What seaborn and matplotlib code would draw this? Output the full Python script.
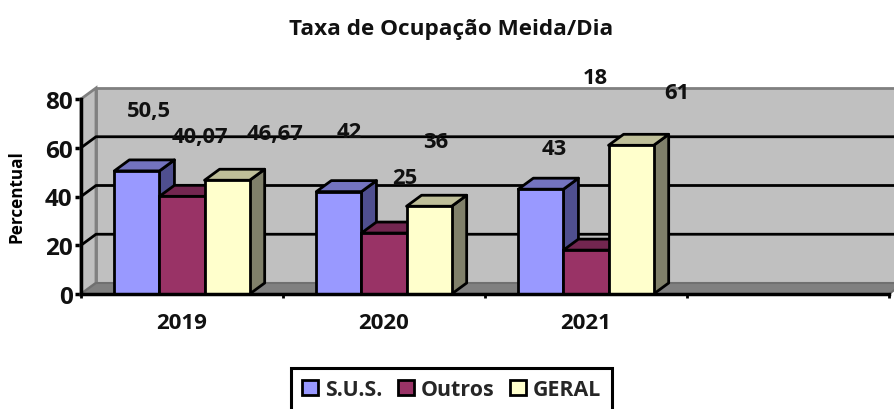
import pandas as pd
import numpy as np
import matplotlib
matplotlib.use("Agg")
import matplotlib.pyplot as plt
import seaborn as sns
from matplotlib.patches import Polygon

years = ["2019", "2020", "2021", " "]
sus = [50.5, 42, 43]
outros = [40.07, 25, 18]
geral = [46.67, 36, 61]
sus_labels = ["50,5", "42", "43"]
outros_labels = ["40,07", "25", "18"]
geral_labels = ["46,67", "36", "61"]
series = ["S.U.S.", "Outros", "GERAL"]
yticks = [0, 20, 40, 60, 80]

colors = ["#9999FF", "#993366", "#FFFFCC"]
side_colors = ["#4F4F8F", "#5E2340", "#80806A"]
top_colors = ["#7373BF", "#732650", "#BFBF99"]

# where each value label sits relative to the top of its bar, in pixels
label_shift = {
    "50,5": (12, 60), "40,07": (18, 60), "46,67": (48, 47),
    "42": (10, 60), "25": (21, 56), "36": (7, 65),
    "43": (13, 41), "18": (9, 173), "61": (46, 53),
}

sns.set_theme(style="white")
plt.rcParams["font.family"] = ["Open Sans", "DejaVu Sans"]
plt.rcParams["font.weight"] = "bold"

W, H = 895, 410
fig = plt.figure(figsize=(W / 100, H / 100), dpi=100)
ax = fig.add_axes([81 / W, 1 - 295 / H, 808 / W, 195 / H])

rows = []
for name, vals in zip(series, [sus, outros, geral]):
    for y, v in zip(years, vals):
        rows.append({"ano": y, "serie": name, "valor": v})
df = pd.DataFrame(rows)

sns.barplot(data=df, x="ano", y="valor", hue="serie", order=years, hue_order=series,
            palette=colors, width=0.67, gap=0, saturation=1, edgecolor="black",
            linewidth=2, ax=ax, zorder=5)

ax.set_xlim(-0.5, 3.5)
ax.set_ylim(0, 80)

# depth of the fake 3d box, in data units
dx = 15 / 202
dy = 11 / (195 / 80)
x0, x1 = -0.5, 3.5

# walls
ax.add_patch(Polygon([(x0 + dx, dy), (x1 + dx, dy), (x1 + dx, 80 + dy), (x0 + dx, 80 + dy)],
                     fc="#C0C0C0", ec="#808080", lw=2, clip_on=False, zorder=1))
ax.add_patch(Polygon([(x0, 0), (x0 + dx, dy), (x0 + dx, 80 + dy), (x0, 80)],
                     fc="#C0C0C0", ec="#808080", lw=2, clip_on=False, zorder=1))
ax.add_patch(Polygon([(x0, 0), (x1, 0), (x1 + dx, dy), (x0 + dx, dy)],
                     fc="#808080", ec="#707070", lw=1.5, clip_on=False, zorder=1.5))

for t in yticks[1:-1]:
    ax.plot([x0, x0 + dx, x1 + dx], [t, t + dy, t + dy], color="black", lw=2,
            clip_on=False, zorder=2, solid_capstyle="butt")

# bar sides and tops, left to right so the next bar hides them
all_labels = [sus_labels, outros_labels, geral_labels]
for i, cont in enumerate(ax.containers):
    for g, p in enumerate(cont.patches[:3]):
        xa, w, h = p.get_x(), p.get_width(), p.get_height()
        z = 3 + g * 3 + i
        p.set_zorder(z + 0.5)
        ax.add_patch(Polygon([(xa + w, 0), (xa + w + dx, dy), (xa + w + dx, h + dy), (xa + w, h)],
                             fc=side_colors[i], ec="black", lw=2, zorder=z, joinstyle="round"))
        ax.add_patch(Polygon([(xa, h), (xa + dx, h + dy), (xa + w + dx, h + dy), (xa + w, h)],
                             fc=top_colors[i], ec="black", lw=2, zorder=z, joinstyle="round"))
        lab = all_labels[i][g]
        ax.annotate(lab, xy=(xa + w / 2, h), xytext=label_shift[lab], textcoords="offset pixels",
                    ha="center", va="center", fontsize=15.8, fontweight="bold", color="#111111",
                    zorder=40, annotation_clip=False)

sns.despine(ax=ax, top=True, right=True)
for s in ["left", "bottom"]:
    ax.spines[s].set_linewidth(2.5)
    ax.spines[s].set_color("black")
    ax.spines[s].set_zorder(30)

ax.set_yticks(yticks)
ax.set_xticks(range(4))
ax.set_xticklabels(years, fontweight="bold")
ax.set_xticks([x0, 0.5, 1.5, 2.5, 3.5], minor=True)
ax.tick_params(axis="x", which="major", length=0, pad=13, labelsize=16, labelcolor="#111111")
ax.tick_params(axis="x", which="minor", length=3, width=2, color="black", bottom=True)
ax.tick_params(axis="y", which="major", length=4, width=2.5, color="black", left=True,
               pad=2, labelsize=17.5, labelcolor="#111111")
for t in ax.get_yticklabels():
    t.set_fontweight("bold")
ax.set_xlabel("")
ax.set_ylabel("")
fig.text(17 / W, 1 - 197 / H, "Percentual", rotation=90, ha="center", va="center",
         fontsize=12.3, fontweight="bold", color="black")
fig.text(451 / W, 1 - 29 / H, "Taxa de Ocupação Meida/Dia", ha="center", va="center",
         fontsize=16.2, fontweight="bold", color="#111111")

handles, labels = ax.get_legend_handles_labels()
ax.get_legend().remove()
leg = fig.legend(handles, labels, loc="upper left", bbox_to_anchor=(291 / W, 1 - 369 / H),
                 ncol=3, frameon=True, fancybox=False, edgecolor="black", framealpha=1,
                 prop={"size": 15.4, "weight": "bold"}, handlelength=0.75, handleheight=0.75,
                 handletextpad=0.32, columnspacing=0.72, borderpad=0.52, borderaxespad=0)
leg.get_frame().set_linewidth(2.2)
for h in leg.legend_handles:
    h.set_edgecolor("black")
    h.set_linewidth(2)

fig.savefig("out.png", dpi=100)
